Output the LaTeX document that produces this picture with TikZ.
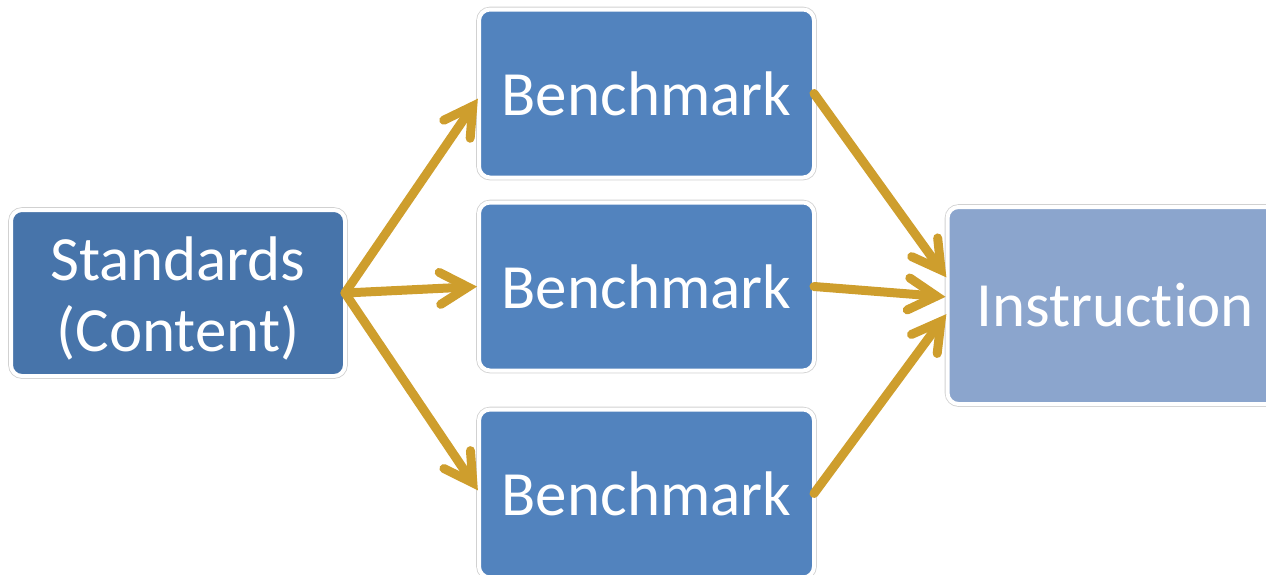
\documentclass[tikz,border=0pt]{standalone}
\usepackage{fontspec}
\setmainfont{Carlito}[Ligatures=NoCommon]
\usetikzlibrary{arrows.meta}
\definecolor{stdblue}{RGB}{71,116,170}
\definecolor{bmblue}{RGB}{82,131,190}
\definecolor{insblue}{RGB}{139,165,205}
\definecolor{gold}{RGB}{206,158,45}
\tikzset{
  box/.style={rectangle, rounded corners=11pt, draw=white, line width=4pt,
    preaction={draw=black!18, line width=5.6pt},
    text=white, font=\fontsize{63}{71}\selectfont, align=center,
    inner sep=0pt, outer sep=0pt},
  flow/.style={draw=gold, line width=9pt, line cap=round,
    -{Straight Barb[length=28pt, width=32pt, line cap=round]}, shorten >=2pt}
}
\begin{document}
\begin{tikzpicture}[x=1pt, y=-1pt]
\useasboundingbox (0,0) rectangle (1266,574);
\node[box, fill=stdblue, minimum width=334pt, minimum height=166pt] (std) at (178,293)
  {\raisebox{-9pt}[\height][\depth]{\begin{tabular}{@{}c@{}}Standards\\(Content)\end{tabular}}};
\node[box, fill=bmblue, minimum width=335pt, minimum height=168pt] (b1) at (646.5,93.5) {Benchmark};
\node[box, fill=bmblue, minimum width=335pt, minimum height=168pt] (b2) at (646.5,286.5) {Benchmark};
\node[box, fill=bmblue, minimum width=335pt, minimum height=168pt] (b3) at (646.5,493.5) {Benchmark};
\node[box, fill=insblue, minimum width=335pt, minimum height=197pt] (ins) at (1115,305.5) {Instruction};
\draw[flow] (std.east) -- ([yshift=-3.5pt]b1.west);
\draw[flow] (std.east) -- (b2.west);
\draw[flow] (std.east) -- ([yshift=1.5pt]b3.west);
\draw[flow] (b1.east) -- ([yshift=26.5pt]ins.west);
\draw[flow] (b2.east) -- ([yshift=8.5pt]ins.west);
\draw[flow] (b3.east) -- ([yshift=-7pt]ins.west);
\end{tikzpicture}
\end{document}
